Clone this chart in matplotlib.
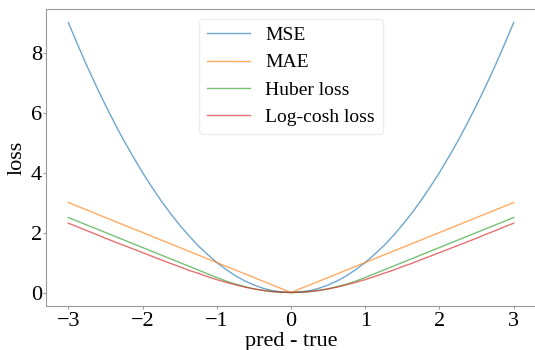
import matplotlib.pyplot as plt

# values for x >= 0 (steps of 0.125); the curves are symmetric
x_half = [0.0, 0.125, 0.25, 0.375, 0.5, 0.625, 0.75, 0.875, 1.0, 1.125, 1.25, 1.375, 1.5,
          1.625, 1.75, 1.875, 2.0, 2.125, 2.25, 2.375, 2.5, 2.625, 2.75, 2.875, 3.0]
mse_half = [0.0, 0.02, 0.06, 0.14, 0.25, 0.39, 0.56, 0.77, 1.0, 1.27, 1.56, 1.89, 2.25,
            2.64, 3.06, 3.52, 4.0, 4.52, 5.06, 5.64, 6.25, 6.89, 7.56, 8.27, 9.0]
mae_half = [0.0, 0.125, 0.25, 0.375, 0.5, 0.625, 0.75, 0.875, 1.0, 1.125, 1.25, 1.375, 1.5,
            1.625, 1.75, 1.875, 2.0, 2.125, 2.25, 2.375, 2.5, 2.625, 2.75, 2.875, 3.0]
huber_half = [0.0, 0.01, 0.03, 0.07, 0.12, 0.2, 0.28, 0.38, 0.5, 0.625, 0.75, 0.875, 1.0,
              1.125, 1.25, 1.375, 1.5, 1.625, 1.75, 1.875, 2.0, 2.125, 2.25, 2.375, 2.5]
logcosh_half = [0.0, 0.01, 0.03, 0.07, 0.12, 0.18, 0.26, 0.34, 0.43, 0.53, 0.64, 0.74, 0.86,
                0.97, 1.09, 1.21, 1.33, 1.45, 1.57, 1.69, 1.81, 1.94, 2.06, 2.19, 2.31]
labels = ['MSE', 'MAE', 'Huber loss', 'Log-cosh loss']


def mirror(v, neg=False):
    left = [-a for a in v[::-1]] if neg else v[::-1]
    return left + v[1:]


x = mirror(x_half, neg=True)

plt.rcParams['font.family'] = ['Liberation Serif', 'DejaVu Serif']

fig = plt.figure(figsize=(5.35, 3.5), dpi=100)
ax = fig.add_axes([46 / 535, 1 - 306 / 350, 490 / 535, 297 / 350])

for ys, lab in zip([mse_half, mae_half, huber_half, logcosh_half], labels):
    ax.plot(x, mirror(ys), linewidth=1.0, alpha=0.65, label=lab)

ax.set_xlim(-3.3, 3.3)
ax.set_ylim(-0.45, 9.45)
ax.set_xticks([-3, -2, -1, 0, 1, 2, 3])
ax.set_yticks([0, 2, 4, 6, 8])
ax.set_xticklabels(['\u22123', '\u22122', '\u22121', '0', '1', '2', '3'])
ax.tick_params(labelsize=16, color='#999999', length=2, width=0.8)
ax.tick_params(axis='y', pad=1)
ax.tick_params(axis='x', pad=2)
ax.set_xlabel('pred - true', fontsize=16, labelpad=1)
ax.set_ylabel('loss', fontsize=16, labelpad=3)
for s in ax.spines.values():
    s.set_color('#999999')
ax.spines['right'].set_visible(False)

ax.legend(loc='upper center', fontsize=14, frameon=True, handlelength=2.2,
          edgecolor='#eeeeee', framealpha=1.0)

fig.savefig('out.png', dpi=100)
